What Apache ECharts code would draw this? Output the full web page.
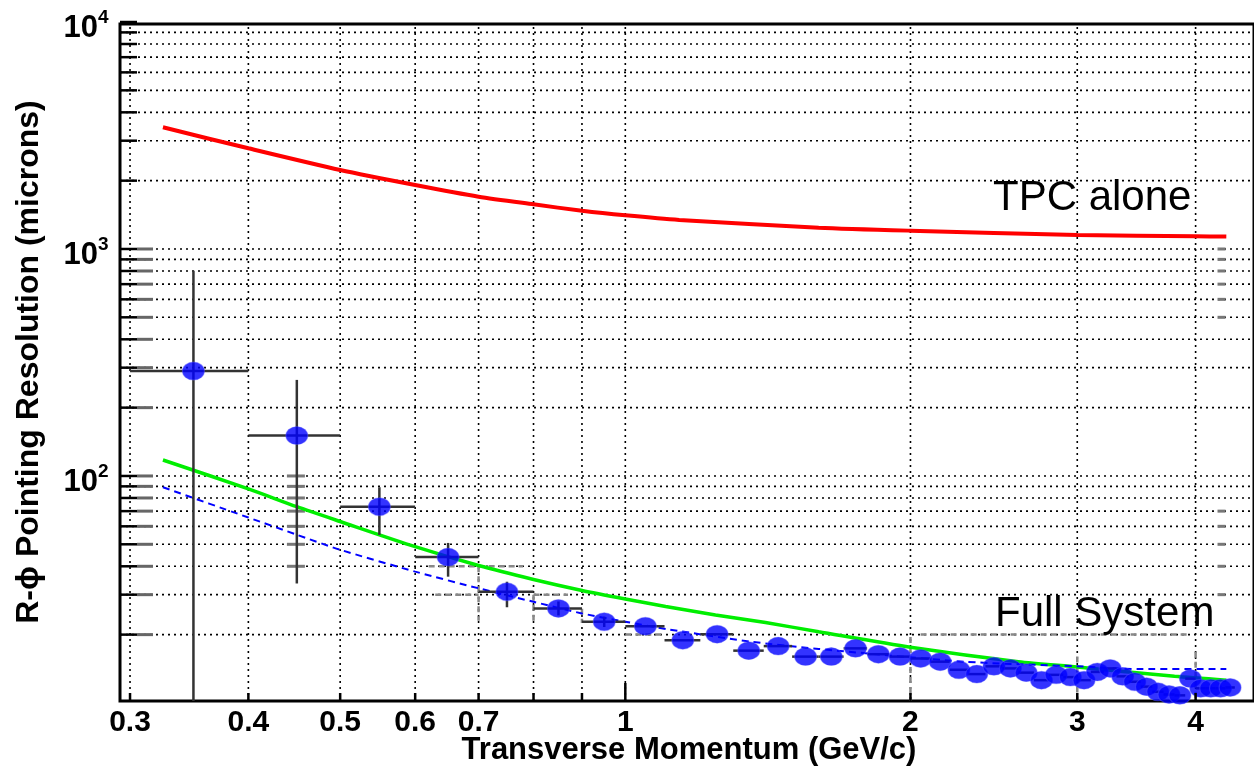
<!DOCTYPE html>
<html><head><meta charset="utf-8">
<script src="https://cdn.jsdelivr.net/npm/echarts@6/dist/echarts.min.js"></script>
<style>html,body{margin:0;padding:0;background:#fff}#c{width:1254px;height:771px}</style>
</head><body><div id="c"></div>
<script>
// ---------- axis ranges ----------
const X_MIN = 0.29278, X_MAX = 4.61, Y_MIN = 10.2, Y_MAX = 9800;

// ---------- ticks / grid ----------
const xTickLabels = [0.3, 0.4, 0.5, 0.6, 0.7, 1, 2, 3, 4];
const xGridValues = [0.3, 0.4, 0.5, 0.6, 0.7, 0.8, 0.9, 1, 2, 3, 4];
const xLongTicks = [1];
const yDecades = [100, 1000, 10000];
const yDecadeExponents = ['2', '3', '4'];
const yGridValues = [20,30,40,50,60,70,80,90,100,200,300,400,500,600,700,800,900,1000,2000,3000,4000,5000,6000,7000,8000,9000];

// ---------- curves ----------
const tpcAlonePt  = [0.325,0.4,0.5,0.6,0.7,0.8,0.9,1.0,1.14,1.6,2,3,4,4.31];
const tpcAloneRes = [3436,2777,2229,1914,1700,1573,1474,1407,1343,1241,1204,1153,1138,1134];

const fullSysPt  = [0.325,0.4,0.45,0.5,0.6,0.7,0.8,0.9,1.0,1.103,1.245,1.406,1.6,2.0,2.6,3.0,3.8,4.31];
const fullSysRes = [117.6,87.7,73.2,63.0,48.8,40.3,35.0,31.3,28.7,26.6,24.4,22.6,20.6,17.6,15.2,14.4,13.1,12.6];

const dashedPt  = [0.325,0.4,0.45,0.5,0.6,0.7,0.8,0.9,1.0,1.11,1.36,1.6,2.28,3.0,3.5,4.31];
const dashedRes = [89.2,65.6,55.1,47.3,37.9,32.0,27.9,24.8,22.8,21.1,18.6,17.3,15.2,14.5,14.1,14.1];

// ---------- measured points ----------
const measPt = [0.35,0.45,0.55,0.65,0.75,0.85,0.95,
  1.05,1.15,1.25,1.35,1.45,1.55,1.65,1.75,1.85,1.95,
  2.05,2.15,2.25,2.35,2.45,2.55,2.65,2.75,2.85,2.95,
  3.05,3.15,3.25,3.35,3.45,3.55,3.65,3.75,3.85,3.95,
  4.05,4.15,4.25,4.35];
const measRes = [290,150.6,73.2,43.9,30.9,26.1,22.8,
  21.8,18.9,20.1,17.0,17.8,16.0,16.0,17.4,16.4,16.0,
  15.7,15.2,14.0,13.4,14.5,14.2,13.6,12.6,13.3,13.0,
  12.6,13.7,14.2,13.1,12.4,11.8,11.2,10.9,10.8,12.8,
  11.6,11.6,11.6,11.7];
const measResHi = [802,265,89.2,50.7,34.2,28.0,24.0];
const measResLo = [5,33.6,55.0,36.0,26.4,24.3,21.6];
const binHalfWidth = 0.05;

// ---------- faint ghost marks (overlay residue in the picture) ----------
const ghostLeftTickValues = [20,30,40,50,60,70,80,90,100,200,300,400,500,600,700,800,900,1000];
const ghostColA = {pt: 0.449, values: [40,50,60,70,80,90,100]};
const ghostColB = {pt: 4.26, values: [30,40,50,60,70,500,600,700,800,900,1000]};
const ghostSegments = [
  [[0.62,40],[0.78,40]], [[0.63,30],[0.70,30]], [[0.70,40],[0.70,23]],
  [[0.80,30],[0.87,30]], [[0.80,30],[0.80,23]], [[0.90,26],[0.90,22.5]],
  [[1.0,20],[1.1,20]], [[2.05,20],[3.95,20]],
  [[2,19.5],[2,10.2]], [[3,16],[3,10.2]], [[4,16.8],[4,10.2]]
];

const FONT = '"Liberation Sans", Arial, Helvetica, sans-serif';
const zip = (a, b) => a.map((v, i) => [v, b[i]]);
const line = (p1, p2, style) => ({type: 'line', shape: {x1: p1[0], y1: p1[1], x2: p2[0], y2: p2[1]}, style});

const chart = echarts.init(document.getElementById('c'), null, {renderer: 'canvas'});

const option = {
  animation: false,
  backgroundColor: '#fff',
  grid: {left: 120, right: -2, top: 24, bottom: 70, show: true, borderColor: '#000', borderWidth: 3, backgroundColor: 'transparent'},
  xAxis: {type: 'log', logBase: 10, min: X_MIN, max: X_MAX,
    axisLine: {show: false}, axisTick: {show: false}, axisLabel: {show: false}, splitLine: {show: false}},
  yAxis: {type: 'log', logBase: 10, min: Y_MIN, max: Y_MAX,
    axisLine: {show: false}, axisTick: {show: false}, axisLabel: {show: false}, splitLine: {show: false}},
  series: [
    // horizontal dotted grid
    {type: 'custom', z: 1, silent: true, data: yGridValues.map(v => [X_MIN, v]),
      renderItem: (p, api) => {
        const a = api.coord([X_MIN, api.value(1)]), b = api.coord([X_MAX, api.value(1)]);
        return line(a, b, {stroke: '#000', lineWidth: 1.6, lineDash: [2, 4]});
      }},
    // vertical dotted grid
    {type: 'custom', z: 1, silent: true, data: xGridValues.map(v => [v, Y_MIN]),
      renderItem: (p, api) => {
        const a = api.coord([api.value(0), Y_MIN]), b = api.coord([api.value(0), Y_MAX]);
        return line(a, b, {stroke: '#000', lineWidth: 1.6, lineDash: [2, 4]});
      }},
    // ghost gray ticks next to left axis
    {type: 'custom', z: 2, silent: true, data: ghostLeftTickValues.map(v => [X_MIN, v]),
      renderItem: (p, api) => {
        const a = api.coord([X_MIN, api.value(1)]);
        return line([a[0] + 17, a[1]], [a[0] + 33, a[1]], {stroke: '#666', lineWidth: 3});
      }},
    // ghost gray columns
    {type: 'custom', z: 2, silent: true,
      data: ghostColA.values.map(v => [ghostColA.pt, v]).concat(ghostColB.values.map(v => [ghostColB.pt, v])),
      renderItem: (p, api) => {
        const a = api.coord([api.value(0), api.value(1)]);
        const w = api.value(0) < 1 ? 9 : 4;
        return line([a[0] - w, a[1]], [a[0] + w, a[1]], {stroke: '#777', lineWidth: 3});
      }},
    // ghost dashed segments
    {type: 'custom', z: 2, silent: true, data: ghostSegments.map(s => [s[0][0], s[0][1], s[1][0], s[1][1]]),
      renderItem: (p, api) => {
        const a = api.coord([api.value(0), api.value(1)]), b = api.coord([api.value(2), api.value(3)]);
        return line(a, b, {stroke: '#888', lineWidth: 2.5, lineDash: [6, 4]});
      }},
    // left axis ticks
    {type: 'custom', z: 6, silent: true, data: yGridValues.concat([10000]).map(v => [X_MIN, v]),
      renderItem: (p, api) => {
        const a = api.coord([X_MIN, api.value(1)]);
        return line([a[0], a[1]], [a[0] + 17, a[1]], {stroke: '#000', lineWidth: 2.5});
      }},
    // bottom axis ticks
    {type: 'custom', z: 6, silent: true, data: xGridValues.map(v => [v, Y_MIN]),
      renderItem: (p, api) => {
        const v = api.value(0);
        const a = api.coord([v, Y_MIN]);
        const len = xLongTicks.indexOf(v) >= 0 ? 18 : 8;
        return line([a[0], a[1]], [a[0], a[1] - len], {stroke: '#000', lineWidth: 2.5});
      }},
    // TPC alone
    {type: 'line', name: 'TPC alone', z: 3, data: zip(tpcAlonePt, tpcAloneRes), showSymbol: false,
      smooth: 0.25, lineStyle: {color: '#ff0000', width: 4}},
    // full system (green)
    {type: 'line', name: 'Full System', z: 3, data: zip(fullSysPt, fullSysRes), showSymbol: false,
      smooth: 0.25, lineStyle: {color: '#00ee00', width: 3.5}},
    // dashed blue
    {type: 'line', name: 'Full System (dashed)', z: 3, data: zip(dashedPt, dashedRes), showSymbol: false,
      smooth: 0.25, lineStyle: {color: '#0000ff', width: 2, type: [7, 5]}},
    // error bars
    {type: 'custom', z: 4, clip: true, silent: true,
      data: measPt.map((x, i) => [x, measRes[i], x - binHalfWidth, x + binHalfWidth,
        i < measResLo.length ? measResLo[i] : measRes[i], i < measResHi.length ? measResHi[i] : measRes[i]]),
      renderItem: (p, api) => {
        const x = api.value(0), y = api.value(1);
        const h1 = api.coord([api.value(2), y]), h2 = api.coord([api.value(3), y]);
        const v1 = api.coord([x, api.value(4)]), v2 = api.coord([x, api.value(5)]);
        const st = {stroke: '#333', lineWidth: 2.5};
        const children = [line(h1, h2, st)];
        if (Math.abs(v1[1] - v2[1]) > 1) children.push(line(v1, v2, st));
        return {type: 'group', children};
      }},
    // measured markers
    {type: 'scatter', name: 'Measured', z: 5, data: zip(measPt, measRes), symbol: 'circle', symbolSize: [22, 18],
      itemStyle: {color: '#0000ff', borderColor: 'rgba(90,90,255,0.55)', borderWidth: 1}},
    // x tick labels
    {type: 'custom', z: 7, silent: true, data: xTickLabels.map(v => [v, Y_MIN]),
      renderItem: (p, api) => {
        const a = api.coord([api.value(0), Y_MIN]);
        return {type: 'text', x: a[0], y: a[1] + 22,
          style: {text: String(api.value(0)), font: 'bold 30px ' + FONT, fill: '#000',
            align: 'center', verticalAlign: 'middle', textAlign: 'center', textVerticalAlign: 'middle'}};
      }},
    // y decade labels
    {type: 'custom', z: 7, silent: true, data: yDecades.map((v, i) => [X_MIN, v, i]),
      renderItem: (p, api) => {
        const a = api.coord([X_MIN, api.value(1)]);
        const e = yDecadeExponents[api.value(2)];
        return {type: 'group', children: [
          {type: 'text', x: a[0] - 22, y: a[1] + 6,
            style: {text: '10', font: 'bold 31px ' + FONT, fill: '#000',
              align: 'right', verticalAlign: 'middle', textAlign: 'right', textVerticalAlign: 'middle'}},
          {type: 'text', x: a[0] - 22, y: a[1] - 4,
            style: {text: e, font: 'bold 19px ' + FONT, fill: '#000',
              align: 'left', verticalAlign: 'middle', textAlign: 'left', textVerticalAlign: 'middle'}}
        ]};
      }}
  ],
  graphic: [
    {type: 'text', x: 993, y: 198, z: 100,
      style: {text: 'TPC alone', font: '42px ' + FONT, fill: '#000', align: 'left', verticalAlign: 'middle'}},
    {type: 'text', x: 995, y: 614, z: 100,
      style: {text: 'Full System', font: '42px ' + FONT, fill: '#000', align: 'left', verticalAlign: 'middle'}},
    {type: 'text', x: 689, y: 750, z: 100,
      style: {text: 'Transverse Momentum (GeV/c)', font: 'bold 31px ' + FONT, fill: '#000', align: 'center', verticalAlign: 'middle'}},
    {type: 'text', x: 29, y: 362, rotation: Math.PI / 2, z: 100,
      style: {text: 'R-\u03D5 Pointing Resolution (microns)', font: 'bold 32px ' + FONT, fill: '#000', align: 'center', verticalAlign: 'middle'}}
  ]
};
chart.setOption(option);
</script>
</body></html>
